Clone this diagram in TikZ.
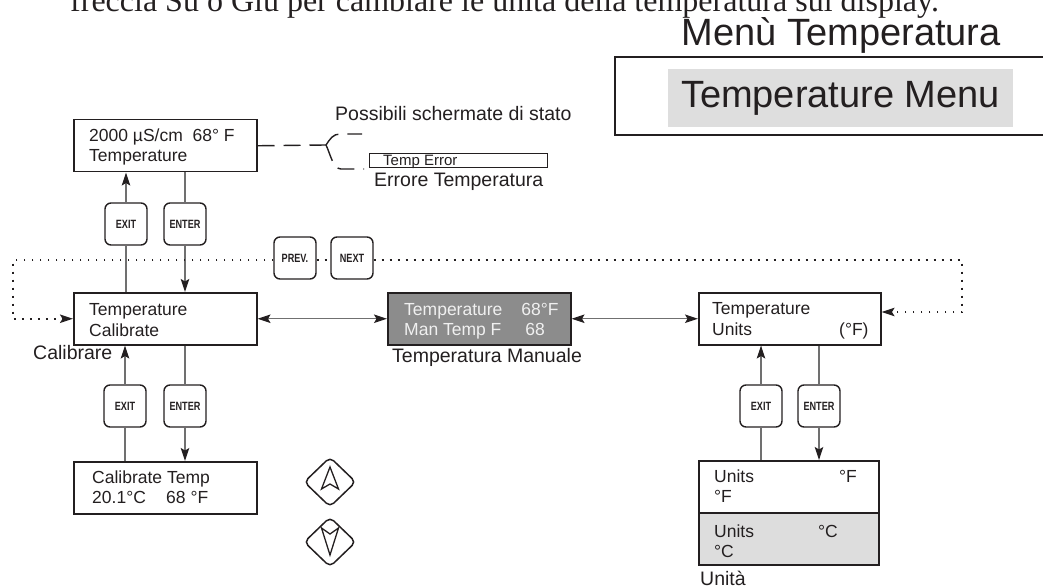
\documentclass[tikz,border=0pt]{standalone}
\usepackage{graphicx}
\usepackage{fontspec}
\setmainfont{Liberation Sans}
\newfontfamily\serifcap{Liberation Serif}
\usetikzlibrary{arrows.meta,shapes.geometric}

\newcommand{\scrfont}{\fontsize{17.5}{21}\selectfont}
\newcommand{\lblfont}{\fontsize{19.5}{23}\selectfont}
\newcommand{\keyfont}{\fontsize{12}{12}\selectfont\bfseries}
\newcommand{\keylabel}[1]{\scalebox{0.76}[1]{#1}}

\definecolor{ink}{HTML}{231F20}
\definecolor{wiregray}{HTML}{707070}
\definecolor{scrgray}{HTML}{8C8C8C}
\definecolor{menugray}{HTML}{DEDEDE}
\definecolor{unitgray}{HTML}{DDDDDD}

\tikzset{
  screen/.style={draw=ink, line width=1.5pt, anchor=north west, inner sep=0pt,
                 minimum width=183pt, minimum height=52pt},
  scrtext/.style={anchor=base west, inner sep=0pt, font=\scrfont, text=ink},
  lbl/.style={anchor=base west, inner sep=0pt, font=\lblfont, text=ink},
  btn/.style={draw=ink, line width=1.4pt, rounded corners=6pt, minimum width=42pt,
              minimum height=42pt, inner sep=0pt, font=\keyfont, text=ink},
  arrowkey/.style={diamond, draw=ink, line width=1.5pt, minimum width=52pt,
                   minimum height=50pt, rounded corners=5pt, inner sep=0pt},
  wire/.style={draw=wiregray, line width=1.1pt},
  arr/.style={-{Stealth[length=13pt,width=8.5pt,inset=2.5pt,color=ink]}},
  twoway/.style={{Stealth[length=13pt,width=8.5pt,inset=2.5pt,color=ink]}-{Stealth[length=13pt,width=8.5pt,inset=2.5pt,color=ink]}},
  dotline/.style={draw=ink, line width=1.8pt, dash pattern=on 1.8pt off 6.2pt},
  dashline/.style={draw=ink, line width=1.4pt, dash pattern=on 17pt off 9pt},
}

\begin{document}
\begin{tikzpicture}[x=1pt,y=-1pt]
\useasboundingbox (0,0) rectangle (1043,588);

% heading
\node[anchor=base west, inner sep=0pt, font={\serifcap\fontsize{32}{36}\selectfont}, text=ink] (caption) at (70,12) {freccia Su o Giù per cambiare le unità della temperatura sul display.};
\node[anchor=base east, inner sep=0pt, font=\fontsize{38}{44}\selectfont, text=ink] (menuit) at (1001,46) {Menù Temperatura};
\draw[ink, line width=1.5pt] (1043,57) -- (615,57) -- (615,135) -- (1043,135);
\node[fill=menugray, minimum width=345pt, minimum height=58pt, inner sep=0pt, font=\fontsize{38}{42}\selectfont, text=ink] (menuen) at (840.5,98) {Temperature Menu};

% main screen and status screens
\node[screen] (main) at (73,119) {};
\node[scrtext] (main1) at (89,142) {2000 µS/cm\ \ 68° F};
\node[scrtext] (main2) at (89,162) {Temperature};
\node[lbl] (maybe) at (335,121) {Possibili schermate di stato};
\node[draw=ink, line width=1.3pt, anchor=north west, minimum width=178pt, minimum height=14pt, inner sep=0pt] (err) at (369,153) {};
\node[scrtext, font=\fontsize{15}{17}\selectfont] (errtxt) at (383,165.5) {Temp Error};
\node[lbl] (errit) at (374,186) {Errore Temperatura};
\coordinate (fork) at (326,145);
\draw[dashline] (main.east) -- (fork);
\draw[dashline] (fork) .. controls (330,139) and (333,134) .. (340,134) -- (362,134);
\draw[dashline] (fork) .. controls (330,153) and (333,169) .. (341,169) -- (364,169);

% menu screens
\node[screen] (calib) at (73,292) {};
\node[scrtext] (cal1) at (89,315.7) {Temperature};
\node[scrtext] (cal2) at (89,336.7) {Calibrate};
\node[lbl] (calit) at (33,359) {Calibrare};

\node[screen, fill=scrgray] (manual) at (387,292) {};
\node[scrtext, text=white!94!black] (man1) at (404,315) {Temperature\hspace{19pt}68°F};
\node[scrtext, text=white!94!black] (man2) at (404,335) {Man Temp F\hspace{24pt}68};
\node[lbl] (manit) at (392,362) {Temperatura Manuale};

\node[screen, minimum width=182pt] (units) at (698,292) {};
\node[scrtext] (unit1) at (712,314) {Temperature};
\node[scrtext] (unit2) at (712,335) {Units};
\node[scrtext] (unit3) at (839,335) {(°F)};

\node[screen] (caltemp) at (73,461) {};
\node[scrtext] (ct1) at (92,483) {Calibrate Temp};
\node[scrtext] (ct2) at (92,503) {20.1°C};
\node[scrtext] (ct3) at (166,503) {68 °F};

\node[screen, minimum width=180pt] (unitf) at (698,460) {};
\node[scrtext] (uf1) at (714,482) {Units};
\node[scrtext] (uf2) at (839,482) {°F};
\node[scrtext] (uf3) at (714,502) {°F};
\node[screen, minimum width=180pt, fill=unitgray] (unitc) at (698,512) {};
\node[scrtext] (uc1) at (714,537) {Units};
\node[scrtext] (uc2) at (818,537) {°C};
\node[scrtext] (uc3) at (714,557) {°C};
\node[lbl] (unitit) at (700,585) {Unità};

% keys
\node[btn] (exitA) at (126,224) {\keylabel{EXIT}};
\node[btn] (enterA) at (185,224) {\keylabel{ENTER}};
\node[btn] (prev) at (295,258) {\keylabel{PREV.}};
\node[btn] (next) at (352,258) {\keylabel{NEXT}};
\node[btn] (exitB) at (125,406) {\keylabel{EXIT}};
\node[btn] (enterB) at (185,406) {\keylabel{ENTER}};
\node[btn] (exitC) at (761,406) {\keylabel{EXIT}};
\node[btn] (enterC) at (819,406) {\keylabel{ENTER}};
\node[arrowkey] (upkey) at (330,482) {};
\node[arrowkey] (downkey) at (330,542) {};
\draw[ink, line width=1.3pt, shift={(upkey.center)}] (0,-15) -- (-8.5,7) -- (0,2) -- (8.5,7) -- cycle;
\draw[ink, line width=1.3pt, shift={(downkey.center)}] (0,13) -- (-8.5,-14) -- (0,-8) -- (8.5,-14) -- cycle;

% exit / enter wires
\draw[wire, arr] (exitA) -- (exitA |- main.south);
\draw[wire] (enterA |- main.south) -- (enterA);
\draw[wire] (exitA |- calib.north) -- (exitA);
\draw[wire, arr] (enterA) -- (enterA |- calib.north);
\draw[wire, arr] (exitB) -- (exitB |- calib.south);
\draw[wire] (enterB |- calib.south) -- (enterB);
\draw[wire] (exitB |- caltemp.north) -- (exitB);
\draw[wire, arr] (enterB) -- (enterB |- caltemp.north);
\draw[wire, arr] (exitC) -- (exitC |- units.south);
\draw[wire] (enterC |- units.south) -- (enterC);
\draw[wire] (exitC |- unitf.north) -- (exitC);
\draw[wire, arr] (enterC) -- (enterC |- unitf.north);

% prev / next
\draw[wire, twoway] (calib) -- (manual);
\draw[wire, twoway] (manual) -- (units);
\coordinate (dl) at (13,260);
\coordinate (dr) at (962,260);
\coordinate (dr2) at (962,312);
\draw[dotline, arr] (prev.west |- dl) -- (dl) |- (calib.west);
\draw[dotline] (prev.east |- dl) -- (next.west |- dl);
\draw[dotline, arr] (next.east |- dl) -- (dr) -- (dr2) -- (dr2 -| units.east);
\end{tikzpicture}
\end{document}
